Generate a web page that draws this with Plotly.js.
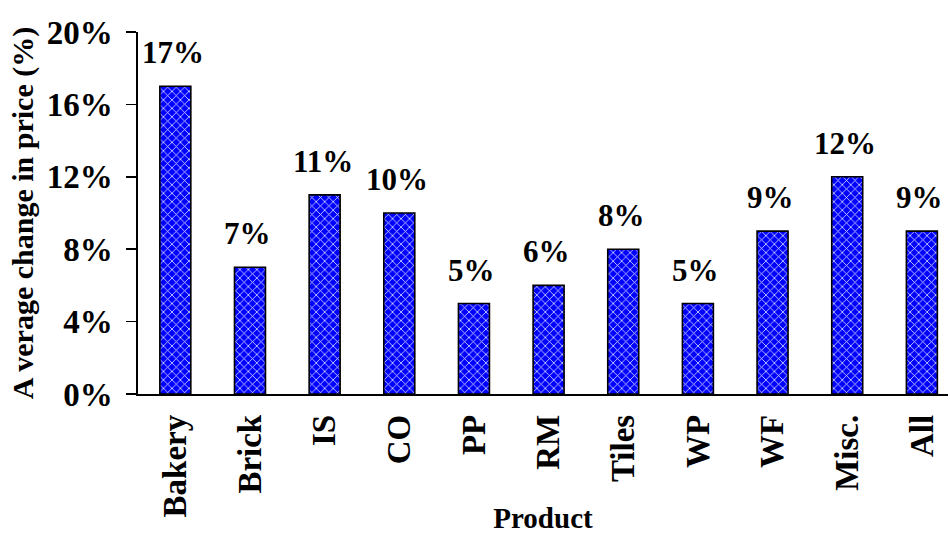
<!DOCTYPE html>
<html>
<head>
<meta charset="utf-8">
<script src="https://cdn.plot.ly/plotly-3.0.1.min.js"></script>
<style>
  html, body { margin: 0; padding: 0; background: #ffffff; }
  #chart { width: 950px; height: 534px; }
</style>
</head>
<body>
<div id="chart"></div>
<script>
// Average change in price by product group
const products = ['Bakery', 'Brick', 'IS', 'CO', 'PP', 'RM', 'Tiles', 'WP', 'WF', 'Misc.', 'All'];
const priceChange = [17, 7, 11, 10, 5, 6, 8, 5, 9, 12, 9];
const yTickValues = [0, 4, 8, 12, 16, 20];
const yTickLabels = ['0%', '4%', '8%', '12%', '16%', '20%'];

const serif = '"Liberation Serif", "Times New Roman", Times, serif';

const bars = {
  type: 'bar',
  x: products,
  y: priceChange,
  width: 0.415,
  marker: {
    color: '#0000ff',
    line: { color: '#000000', width: 1.6 },
    pattern: {
      shape: 'x',
      bgcolor: '#0000ff',
      fgcolor: '#e8ecff',
      size: 6,
      solidity: 0.24,
      fillmode: 'replace'
    }
  },
  hoverinfo: 'x+y'
};

// value labels above each bar
const valueLabels = products.map((p, i) => ({
  x: p,
  y: priceChange[i],
  xref: 'x',
  yref: 'y',
  text: priceChange[i] + '%',
  showarrow: false,
  yanchor: 'bottom',
  xanchor: 'center',
  yshift: 14,
  xshift: -2,
  font: { family: serif, size: 31, color: '#000000', weight: 'bold' }
}));

const layout = {
  width: 950,
  height: 534,
  margin: { l: 138, r: 2, t: 32, b: 140 },
  paper_bgcolor: '#ffffff',
  plot_bgcolor: '#ffffff',
  showlegend: false,
  font: { family: serif, color: '#000000', weight: 'bold' },
  xaxis: {
    type: 'category',
    range: [-0.5, 10.35],
    showline: true,
    linecolor: '#000000',
    linewidth: 1.6,
    ticks: '',
    showgrid: false,
    zeroline: false,
    tickangle: -90,
    ticklabelstandoff: 6,
    tickfont: { family: serif, size: 33, color: '#000000', weight: 'bold' },
    title: {
      text: 'Product',
      standoff: 11,
      font: { family: serif, size: 29, color: '#000000', weight: 'bold' }
    },
    fixedrange: true
  },
  yaxis: {
    range: [0, 20],
    tickvals: yTickValues,
    ticktext: yTickLabels,
    showline: true,
    linecolor: '#000000',
    linewidth: 1.6,
    ticks: 'outside',
    ticklen: 10,
    tickwidth: 1.6,
    tickcolor: '#000000',
    ticklabelstandoff: 7,
    showgrid: false,
    zeroline: false,
    tickfont: { family: serif, size: 33, color: '#000000', weight: 'bold' },
    title: {
      text: 'A verage change in price (%)',
      standoff: 4,
      font: { family: serif, size: 30, color: '#000000', weight: 'bold' }
    },
    fixedrange: true
  },
  annotations: valueLabels
};

Plotly.newPlot('chart', [bars], layout, { displayModeBar: false, staticPlot: true });
</script>
</body>
</html>
